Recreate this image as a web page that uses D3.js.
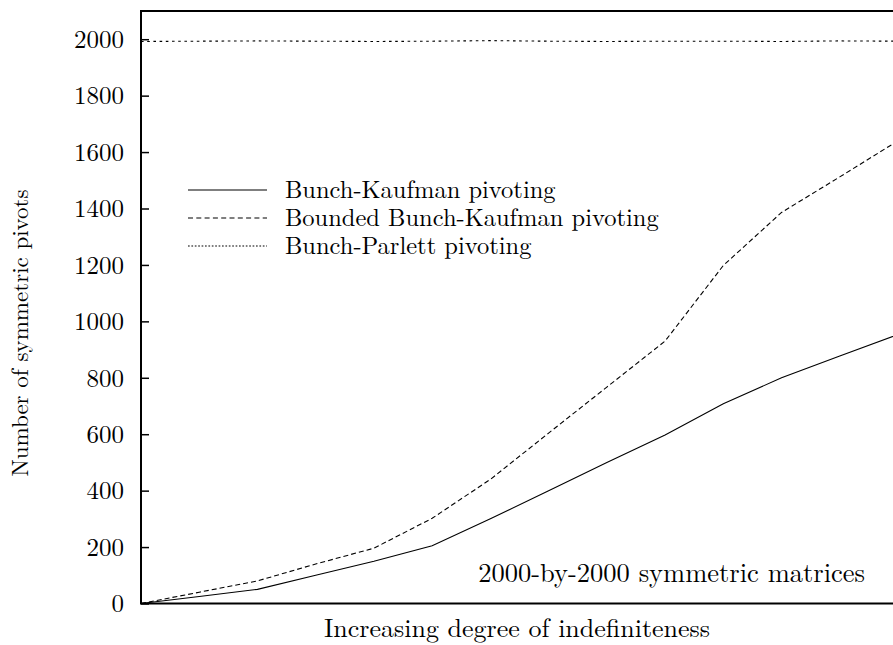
<!DOCTYPE html>
<html lang="en">
<head>
    <meta charset="UTF-8">
    <script src="https://d3js.org/d3.v7.min.js"></script>
</head>
<body style="margin: 0; background: #fff;">
    <svg width="893" height="645"></svg>

    <script>
        // x is just the step number along "degree of indefiniteness"
        let steps = d3.range(0, 14);
        let bunchKaufman = [0, 25, 50, 100, 150, 205, 300, 400, 500, 597, 708, 800, 877, 953];
        let boundedBK = [0, 40, 80, 140, 196, 302, 440, 604, 767, 930, 1198, 1386, 1512, 1640];
        let bunchParlett = [1992, 1993, 1994, 1993, 1992, 1993, 1995, 1993, 1992, 1993, 1993, 1992, 1994, 1993];
        let yTicks = [0, 200, 400, 600, 800, 1000, 1200, 1400, 1600, 1800, 2000];

        let series = [
            { name: "Bunch-Kaufman pivoting", values: bunchKaufman, dash: null, legendDash: null },
            { name: "Bounded Bunch-Kaufman pivoting", values: boundedBK, dash: "5,3", legendDash: "5,3.3" },
            { name: "Bunch-Parlett pivoting", values: bunchParlett, dash: "2.6,3.6", legendDash: "1.7,1.7" }
        ];

        let font = "'Latin Modern Roman', 'CMU Serif', 'Liberation Serif', serif";

        let svg = d3.select("svg");
        let plotLeft = 141, plotTop = 11, plotBottom = 603.5;

        // the frame runs off the right side of the picture, so the last step sits past 893
        let x = d3.scaleLinear().domain([0, 13]).range([plotLeft, 898]);
        let y = d3.scaleLinear().domain([0, 2100]).range([plotBottom, plotTop]);

        // y ticks point inward, labels on the left
        let yAxis = svg.append("g")
            .attr("transform", "translate(" + plotLeft + ",0)")
            .call(d3.axisRight(y).tickValues(yTicks).tickSize(8).tickFormat(""));
        yAxis.select(".domain").remove();
        yAxis.selectAll("line").attr("stroke", "#000").attr("stroke-width", 1.5);

        svg.append("g").selectAll("text")
            .data(yTicks)
            .enter()
            .append("text")
            .attr("x", 124)
            .attr("y", d => y(d))
            .attr("dy", "0.35em")
            .attr("text-anchor", "end")
            .style("font-family", font)
            .style("font-size", "25px")
            .text(d => d);

        // frame: left, top, bottom
        svg.append("path")
            .attr("d", "M900," + plotTop + "H" + plotLeft + "V" + plotBottom + "H900")
            .attr("fill", "none")
            .attr("stroke", "#000")
            .attr("stroke-width", 2);

        let line = d3.line()
            .x((d, i) => x(steps[i]))
            .y(d => y(d));

        svg.append("g").selectAll("path")
            .data(series)
            .enter()
            .append("path")
            .attr("d", d => line(d.values))
            .attr("fill", "none")
            .attr("stroke", "#000")
            .attr("stroke-width", 1.1)
            .attr("stroke-dasharray", d => d.dash);

        // legend
        let legend = svg.append("g").selectAll("g")
            .data(series)
            .enter()
            .append("g")
            .attr("transform", (d, i) => "translate(0," + (190 + i * 28) + ")");
        legend.append("line")
            .attr("x1", 188).attr("x2", 267)
            .attr("stroke", "#000")
            .attr("stroke-width", 1.1)
            .attr("stroke-dasharray", d => d.legendDash);
        legend.append("text")
            .attr("x", 285)
            .attr("dy", "0.33em")
            .style("font-family", font)
            .style("font-size", "24.5px")
            .text(d => d.name);

        svg.append("text")
            .attr("x", 865)
            .attr("y", 582)
            .attr("text-anchor", "end")
            .style("font-family", font)
            .style("font-size", "26.5px")
            .text("2000-by-2000 symmetric matrices");

        svg.append("text")
            .attr("x", 517)
            .attr("y", 637)
            .attr("text-anchor", "middle")
            .style("font-family", font)
            .style("font-size", "26px")
            .text("Increasing degree of indefiniteness");

        svg.append("text")
            .attr("transform", "translate(28,333) rotate(-90)")
            .attr("text-anchor", "middle")
            .style("font-family", font)
            .style("font-size", "23px")
            .text("Number of symmetric pivots");
    </script>
</body>
</html>
